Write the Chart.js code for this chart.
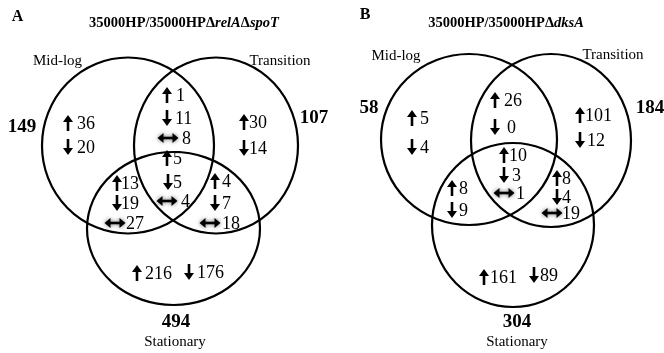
<!DOCTYPE html>
<html>
<head>
<meta charset="utf-8">
<script src="https://cdn.jsdelivr.net/npm/chart.js@4/dist/chart.umd.min.js"></script>
<style>
  html, body { margin: 0; padding: 0; background: #fff; }
  canvas { display: block; }
</style>
</head>
<body>
<canvas id="venn" width="664" height="353"></canvas>
<script>
// Growth phases compared in each panel
const phases = ['Mid-log', 'Transition', 'Stationary'];

// Regions, in order: Mid-log only, Transition only, Stationary only,
// Mid-log∩Transition, Mid-log∩Stationary, Transition∩Stationary, all three
const upA     = [36, 30, 216, 1, 13, 4, 5];
const downA   = [20, 14, 176, 11, 19, 7, 5];
const steadyA = [null, null, null, 8, 27, 18, 4];
const totalsA = [149, 107, 494];

const upB     = [5, 101, 161, 26, 8, 8, 10];
const downB   = [4, 12, 89, 0, 9, 4, 3];
const steadyB = [null, null, null, null, null, 19, 1];
const totalsB = [58, 184, 304];

// Layout (data-space units of the hidden axes)
const layoutA = {
  letter: 'A', letterPos: [17.5, 17],
  titleParts: [['35000HP/35000HP', false], ['\u0394', false], ['relA', true], ['\u0394', false], ['spoT', true]],
  titlePos: [184, 23],
  circles: [[128, 145.5, 86, 88], [216, 145.5, 82, 88], [173.5, 228.5, 86.5, 76.5]],
  namePos: [[57.5, 61], [280, 61], [175, 342]],
  totalPos: [[22, 127], [314, 118], [176, 322]],
  up:     [[68,77,123],[244,249,122],[137,145,273],[167,176,95],[117,121,183],[215,222,181],[167,173,158]],
  down:   [[68,77,147],[244,249,148],[189,197,272],[167,175,118],[117,121,203],[215,222,203],[168,173,182]],
  steady: [null,null,null,[168,182,138],[115,126,223],[210,222,223],[167,181,201]]
};
const layoutB = {
  letter: 'B', letterPos: [365, 15],
  titleParts: [['35000HP/35000HP', false], ['\u0394', false], ['dksA', true]],
  titlePos: [506, 23],
  circles: [[469, 139.5, 88, 85.5], [551, 140.5, 80, 86.5], [513, 225, 81, 82]],
  namePos: [[396, 56], [613, 55], [517, 342]],
  totalPos: [[369, 108], [650, 108], [517, 322]],
  up:     [[412,420,118],[580,585,115],[484,490,277],[495,504,100],[452,459,188],[557,562,178],[504,509,155]],
  down:   [[412,420,147],[580,587,140],[534,540,275],[495,507,127],[452,459,210],[557,562,197],[504,512,175]],
  steady: [null,null,null,null,null,[552,562,213],[504,516,193]]
};

const panels = [
  { layout: layoutA, up: upA, down: downA, steady: steadyA, totals: totalsA },
  { layout: layoutB, up: upB, down: downB, steady: steadyB, totals: totalsB }
];

const SERIF = '"Liberation Serif", "Times New Roman", serif';

function vArrow(ctx, x, y, dir) {
  // dir = -1 points up, +1 points down
  const half = 8, headH = 7, headW = 5;
  ctx.save();
  ctx.strokeStyle = '#000';
  ctx.fillStyle = '#000';
  ctx.lineWidth = 2.6;
  ctx.beginPath();
  ctx.moveTo(x, y - dir * half);
  ctx.lineTo(x, y + dir * (half - headH + 1));
  ctx.stroke();
  ctx.beginPath();
  ctx.moveTo(x, y + dir * half);
  ctx.lineTo(x - headW, y + dir * (half - headH));
  ctx.lineTo(x + headW, y + dir * (half - headH));
  ctx.closePath();
  ctx.fill();
  ctx.restore();
}

function hArrow(ctx, x, y) {
  const half = 10.5, headL = 6, headW = 5;
  ctx.save();
  ctx.shadowColor = 'rgba(0,0,0,0.55)';
  ctx.shadowBlur = 4;
  ctx.strokeStyle = '#000';
  ctx.fillStyle = '#000';
  ctx.lineWidth = 2.6;
  ctx.beginPath();
  ctx.moveTo(x - half + headL - 1, y);
  ctx.lineTo(x + half - headL + 1, y);
  ctx.stroke();
  [-1, 1].forEach(s => {
    ctx.beginPath();
    ctx.moveTo(x + s * half, y);
    ctx.lineTo(x + s * (half - headL), y - headW);
    ctx.lineTo(x + s * (half - headL), y + headW);
    ctx.closePath();
    ctx.fill();
  });
  ctx.restore();
}

const vennPlugin = {
  id: 'venn',
  afterDraw(chart) {
    const { ctx, scales: { x: sx, y: sy } } = chart;
    const px = v => sx.getPixelForValue(v);
    const py = v => sy.getPixelForValue(v);

    panels.forEach(p => {
      const L = p.layout;

      // circles for the three phases
      ctx.save();
      ctx.strokeStyle = '#000';
      ctx.lineWidth = 2.2;
      L.circles.forEach(([cx, cy, rx, ry]) => {
        const cxp = px(cx), cyp = py(cy);
        const rxp = Math.abs(px(cx + rx) - cxp);
        const ryp = Math.abs(py(cy + ry) - cyp);
        ctx.beginPath();
        ctx.ellipse(cxp, cyp, rxp, ryp, 0, 0, Math.PI * 2);
        ctx.stroke();
      });
      ctx.restore();

      ctx.save();
      ctx.fillStyle = '#000';
      ctx.textBaseline = 'middle';

      // panel letter
      ctx.font = 'bold 16px ' + SERIF;
      ctx.textAlign = 'center';
      ctx.fillText(L.letter, px(L.letterPos[0]), py(L.letterPos[1]));

      // title with italic gene names
      ctx.textAlign = 'left';
      const fontFor = it => (it ? 'italic bold 14.5px ' : 'bold 14.5px ') + SERIF;
      let w = 0;
      L.titleParts.forEach(([t, it]) => { ctx.font = fontFor(it); w += ctx.measureText(t).width; });
      let tx = px(L.titlePos[0]) - w / 2;
      L.titleParts.forEach(([t, it]) => {
        ctx.font = fontFor(it);
        ctx.fillText(t, tx, py(L.titlePos[1]));
        tx += ctx.measureText(t).width;
      });

      // phase names and totals
      ctx.textAlign = 'center';
      ctx.font = '15px ' + SERIF;
      phases.forEach((n, i) => ctx.fillText(n, px(L.namePos[i][0]), py(L.namePos[i][1])));
      ctx.font = 'bold 19px ' + SERIF;
      p.totals.forEach((v, i) => ctx.fillText(String(v), px(L.totalPos[i][0]), py(L.totalPos[i][1])));

      // region counts
      ctx.textAlign = 'left';
      ctx.font = '18px ' + SERIF;
      const drawSet = (vals, pos, kind) => {
        vals.forEach((v, i) => {
          if (v === null || !pos[i]) return;
          const [ax, txx, y] = pos[i];
          if (kind === 'up') vArrow(ctx, px(ax), py(y), -1);
          else if (kind === 'down') vArrow(ctx, px(ax), py(y), 1);
          else hArrow(ctx, px(ax), py(y));
          ctx.fillText(String(v), px(txx), py(y) + 1);
        });
      };
      drawSet(p.up, L.up, 'up');
      drawSet(p.down, L.down, 'down');
      drawSet(p.steady, L.steady, 'steady');
      ctx.restore();
    });
  }
};

new Chart(document.getElementById('venn'), {
  type: 'scatter',
  data: { datasets: [] },
  options: {
    responsive: false,
    animation: false,
    layout: { padding: 0 },
    scales: {
      x: { type: 'linear', min: 0, max: 664, display: false },
      y: { type: 'linear', min: 0, max: 353, reverse: true, display: false }
    },
    plugins: { legend: { display: false }, tooltip: { enabled: false }, title: { display: false } }
  },
  plugins: [vennPlugin]
});
</script>
</body>
</html>
